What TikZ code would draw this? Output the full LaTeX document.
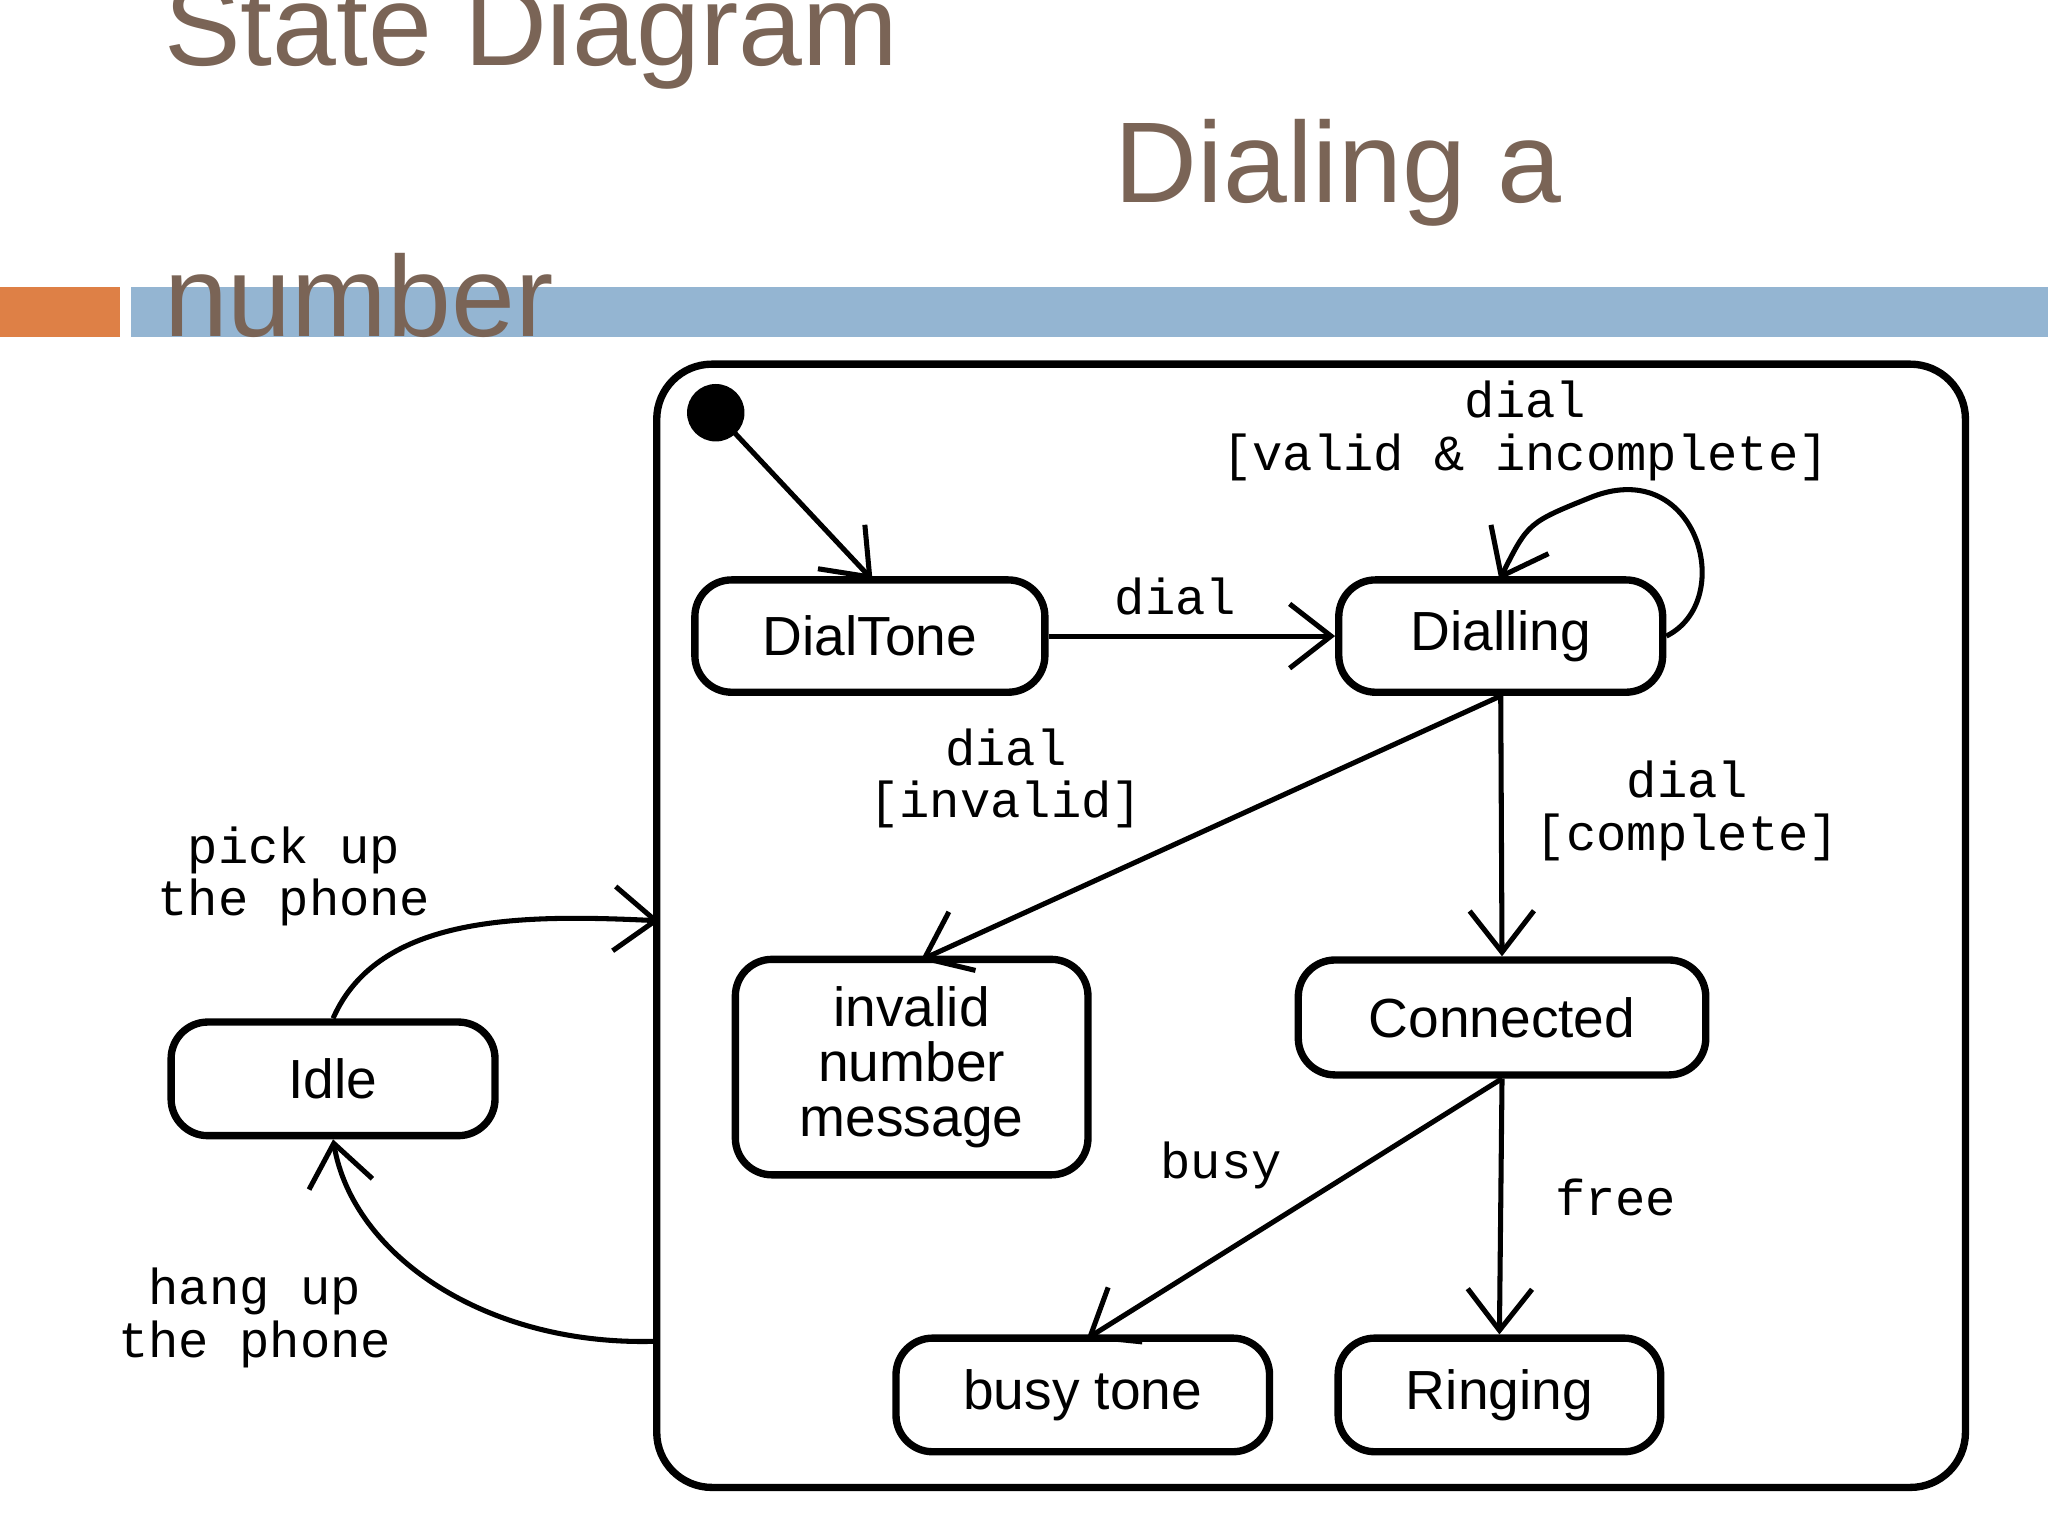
\documentclass[tikz,border=0pt]{standalone}
\usepackage{fontspec}
\setmainfont{Liberation Sans}
\newfontfamily\monofont{Liberation Mono}
\usetikzlibrary{arrows.meta}
\definecolor{titlebrown}{RGB}{122,100,86}
\definecolor{barblue}{RGB}{148,181,210}
\definecolor{barorange}{RGB}{222,128,70}
\begin{document}
\begin{tikzpicture} [x=0.01cm, y=-0.01cm, line width=1.1pt,
	state/.style={rectangle, rounded corners=8pt, draw, line width=1.6pt, font=\fontsize{12}{13}\selectfont, align=center, inner sep=0pt},
	lbl/.style={font=\monofont\fontsize{11}{11.5}\selectfont, align=center},
	heading/.style={anchor=base west, text=titlebrown, font=\fontsize{25}{27}\selectfont},
	trans/.style={-{Straight Barb[length=9pt, width=14pt]}}]
{
	\useasboundingbox (0,0) rectangle (1568,1176);

	% title and bars
	\fill [barorange] (0,220) rectangle (92,258);
	\fill [barblue] (100,220) rectangle (1568,258);
	\node [heading] (title1) at (112,50) {State Diagram};
	\node [heading] (title2) at (840,155) {Dialing a};
	\node [heading] (title3) at (112,258) {number};

	% states
	\node [state, rounded corners=12pt, minimum width=1002*0.01cm, minimum height=860*0.01cm, anchor=north west] (active) at (500,276) {};
	\fill (548,316) circle (22) coordinate (init);
	\node [state, minimum width=268*0.01cm, minimum height=86*0.01cm] (dialtone) at (666,487) {DialTone};
	\node [state, minimum width=248*0.01cm, minimum height=86*0.01cm] (dialling) at (1149,487) {Dialling};
	\node [state, minimum width=270*0.01cm, minimum height=165*0.01cm] (invalid) at (698,817) {invalid\\[-1pt]number\\[-1pt]message};
	\node [state, minimum width=312*0.01cm, minimum height=88*0.01cm] (connected) at (1150,779) {Connected};
	\node [state, minimum width=248*0.01cm, minimum height=87*0.01cm] (idle) at (255,826) {Idle};
	\node [state, minimum width=286*0.01cm, minimum height=87*0.01cm] (busytone) at (829,1068) {busy tone};
	\node [state, minimum width=247*0.01cm, minimum height=87*0.01cm] (ringing) at (1148,1068) {Ringing};

	% draw edges
	\draw [trans] (init) -- (668,444);
	\draw [trans] (dialtone) -- (dialling);
	\draw [trans] (dialling.east) .. controls (1330,460) and (1300,350) .. (1220,380) .. controls (1170,400) .. (1148,444);
	\draw [trans] (dialling.south) -- (705,735);
	\draw [trans] (dialling.south) -- (connected.north);
	\draw [trans] (connected.south) -- (832,1025);
	\draw [trans] (connected.south) -- (ringing.north);
	\draw [trans] (idle.north) .. controls (290,700) and (400,700) .. (505,705);
	\draw [trans] (500,1027) .. controls (370,1030) and (270,960) .. (idle.south);

	% labels
	\node [lbl] (l_dial) at (900,457) {dial};
	\node [lbl] (l_loop) at (1168,330) {dial\\\relax[valid \& incomplete]};
	\node [lbl] (l_inv) at (770,596) {dial\\\relax[invalid]};
	\node [lbl] (l_comp) at (1292,621) {dial\\\relax[complete]};
	\node [lbl] (l_busy) at (935,892) {busy};
	\node [lbl] (l_free) at (1237,917) {free};
	\node [lbl] (l_pick) at (225,671) {pick up\\the phone};
	\node [lbl] (l_hang) at (195,1009) {hang up\\the phone};
}
\end{tikzpicture}
\end{document}
